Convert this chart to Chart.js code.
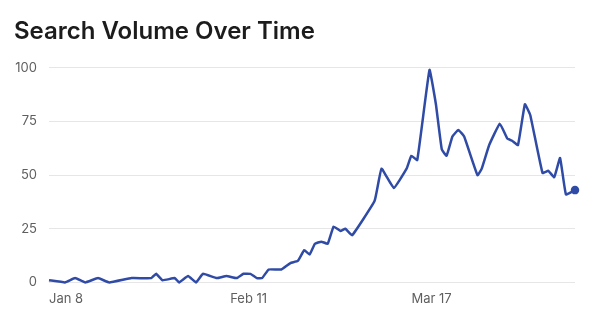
<!DOCTYPE html>
<html>
<head>
<meta charset="utf-8">
<script src="https://cdn.jsdelivr.net/npm/chart.js@4"></script>
<style>
    html, body { margin: 0; padding: 0; background: #ffffff; }
    #wrap { width: 600px; height: 317px; position: relative; }
</style>
</head>
<body>
<div id="wrap"><canvas id="volumeChart"></canvas></div>
<script>
    // Days since Jan 8 for each sampled point
    const dayOffsets = [
        0, 3, 4.9, 6.8, 9.2, 11.3, 15.5, 19.2, 20.1, 21.3, 23.6, 24.4, 26.1, 27.6, 28.9,
        31.5, 33.3, 35.2, 36.5, 37.8, 39, 40, 41.2, 43.6, 45.3, 46.7, 47.9, 48.9, 49.9,
        51.1, 52.3, 53.4, 54.7, 55.6, 56.9, 61.1, 62.4, 64.7, 67.1, 68, 69.1, 71.4, 72.6,
        73.7, 74.6, 75.7, 76.8, 77.9, 80.4, 81.2, 82.6, 84.6, 86, 86.9, 88, 89.3, 90.3,
        92.6, 93.7, 94.8, 95.9, 97, 98.7
    ];
    const searchVolume = [
        1, 0, 2, 0, 2, 0, 2, 2, 4, 1, 2, 0, 3, 0, 4,
        2, 3, 2, 4, 4, 2, 2, 6, 6, 9, 10, 15, 13, 18,
        19, 18, 26, 24, 25, 22, 38, 53, 44, 53, 59, 57, 99, 83,
        62, 59, 68, 71, 68, 50, 53, 64, 74, 67, 66, 64, 83, 78,
        51, 52, 49, 58, 41, 43
    ];
    const tickDays = [0, 34, 68];
    const tickLabels = ['Jan 8', 'Feb 11', 'Mar 17'];
    const yTicks = [0, 25, 50, 75, 100];

    const points = dayOffsets.map((d, i) => ({ x: d, y: searchVolume[i] }));
    const lastIdx = points.length - 1;
    const lineColor = '#2f4ba6';

    new Chart(document.getElementById('volumeChart'), {
        type: 'line',
        data: {
            datasets: [{
                data: points,
                borderColor: lineColor,
                backgroundColor: lineColor,
                borderWidth: 2.5,
                tension: 0.1,
                pointRadius: ctx => ctx.dataIndex === lastIdx ? 3 : 0,
                pointHoverRadius: 0,
                clip: false
            }]
        },
        options: {
            responsive: true,
            maintainAspectRatio: false,
            animation: false,
            layout: { padding: { left: 14, right: 25, top: 0, bottom: 1 } },
            plugins: {
                legend: { display: false },
                tooltip: { enabled: false },
                title: {
                    display: true,
                    text: 'Search Volume Over Time',
                    align: 'start',
                    color: '#1c1c1c',
                    font: { family: 'Inter', size: 24, weight: '600' },
                    padding: { top: 17, bottom: 22 }
                }
            },
            scales: {
                x: {
                    type: 'linear',
                    min: 0,
                    max: dayOffsets[lastIdx],
                    border: { display: false },
                    grid: { display: false, drawTicks: false },
                    afterBuildTicks: axis => {
                        axis.ticks = tickDays.map(v => ({ value: v }));
                    },
                    ticks: {
                        align: 'start',
                        padding: 9,
                        color: '#5f5f5f',
                        font: { family: 'Inter', size: 13 },
                        callback: v => tickLabels[tickDays.indexOf(v)]
                    }
                },
                y: {
                    min: 0,
                    max: 100,
                    border: { display: false },
                    grid: { color: '#e6e6e6', drawTicks: false, lineWidth: 1 },
                    afterBuildTicks: axis => {
                        axis.ticks = yTicks.map(v => ({ value: v }));
                    },
                    afterFit: axis => { axis.width = 35; },
                    ticks: {
                        padding: 12,
                        color: '#5f5f5f',
                        font: { family: 'Inter', size: 13 }
                    }
                }
            }
        }
    });
</script>
</body>
</html>
